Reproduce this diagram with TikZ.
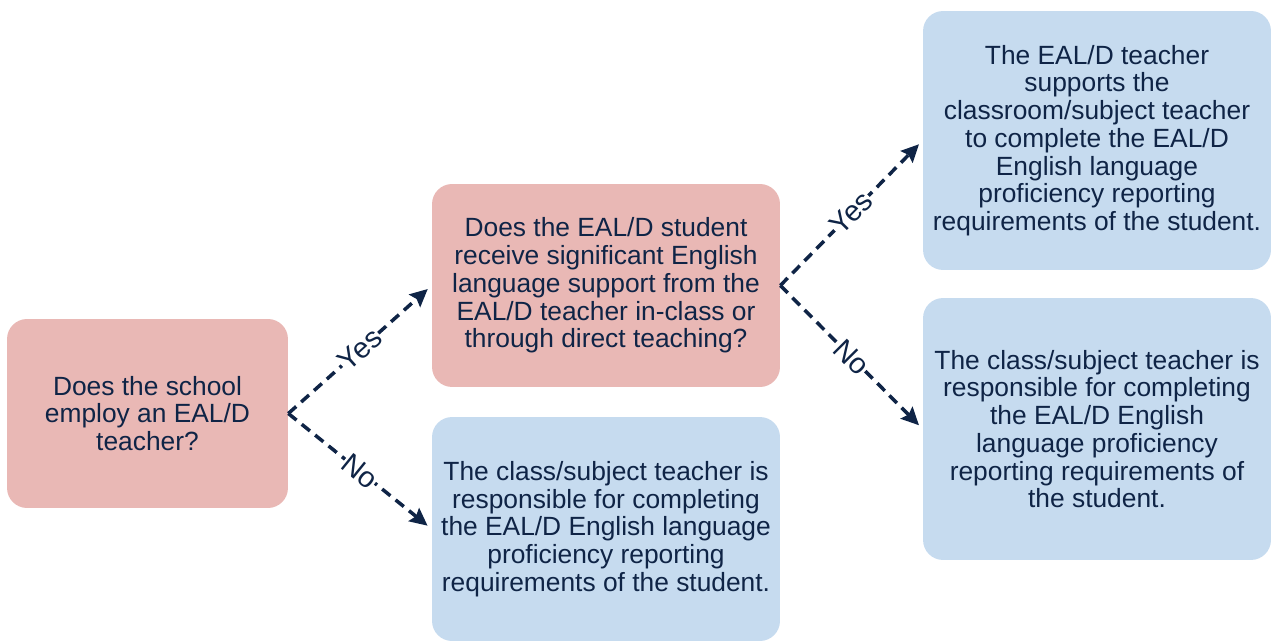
\documentclass[tikz,border=0pt]{standalone}
\usepackage{fontspec}
\setmainfont{Liberation Sans}
\usetikzlibrary{arrows.meta}
\definecolor{pinkbox}{HTML}{E9B8B5}
\definecolor{bluebox}{HTML}{C6DBEF}
\definecolor{navy}{HTML}{0F2446}
\tikzset{
  box/.style={rectangle, rounded corners=0.4cm, inner sep=0pt, align=center, text=navy,
    font=\fontsize{15}{15.8}\selectfont},
  pinkb/.style={box, fill=pinkbox},
  blueb/.style={box, fill=bluebox},
  conn/.style={draw=navy, line width=2pt, dash pattern=on 6pt off 3.8pt,
    -{Stealth[length=10pt,width=9.5pt,inset=1.5pt]}, shorten >=3pt},
  lab/.style={midway, sloped, fill=white, inner sep=0.3pt, text=navy,
    font=\fontsize{16.5}{17}\selectfont}
}
\begin{document}
\begin{tikzpicture}[x=0.02cm, y=-0.02cm]
\useasboundingbox (0,0) rectangle (1273,641);
\begin{scope}
\clip (0,0) rectangle (1273,641);
\node[pinkb, minimum width=5.62cm, minimum height=3.78cm] (A) at (147.5,413.5)
  {Does the school\\employ an EAL/D\\teacher?};
\node[pinkb, minimum width=6.96cm, minimum height=4.06cm] (B) at (606,285.5)
  {Does the EAL/D student\\receive significant English\\language support from the\\EAL/D teacher in-class or\\through direct teaching?};
\node[blueb, minimum width=6.96cm, minimum height=4.48cm] (C) at (606,529)
  {The class/subject teacher is\\responsible for completing\\the EAL/D English language\\proficiency reporting\\requirements of the student.};
\node[blueb, minimum width=6.96cm, minimum height=5.18cm] (D) at (1097,140.5)
  {The EAL/D teacher\\supports the\\classroom/subject teacher\\to complete the EAL/D\\English language\\proficiency reporting\\requirements of the student.};
\node[blueb, minimum width=6.96cm, minimum height=5.24cm] (E) at (1097,429)
  {The class/subject teacher is\\responsible for completing\\the EAL/D English\\language proficiency\\reporting requirements of\\the student.};
\end{scope}
\draw[conn] (A.east) -- (B.west) node[lab] {Yes};
\draw[conn] (A.east) -- (C.west) node[lab] {No};
\draw[conn] (B.east) -- (D.west) node[lab] {Yes};
\draw[conn] (B.east) -- (E.west) node[lab] {No};
\end{tikzpicture}
\end{document}
